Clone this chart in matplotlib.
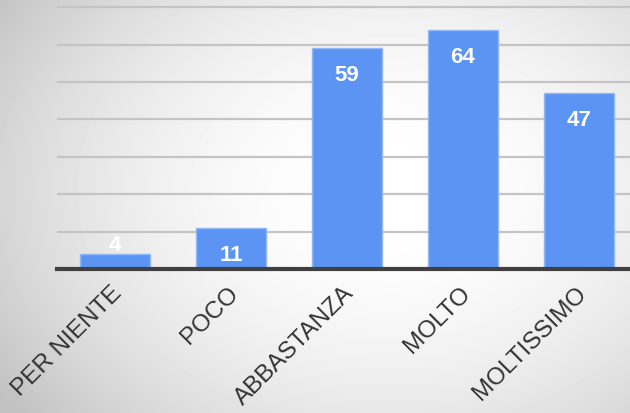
import numpy as np
import matplotlib.pyplot as plt
import matplotlib.transforms as mtransforms

plt.rcParams['font.family'] = ['Liberation Sans', 'DejaVu Sans']

categorie = ['PER NIENTE', 'POCO', 'ABBASTANZA', 'MOLTO', 'MOLTISSIMO']
valori = [4, 11, 59, 64, 47]

fig = plt.figure(figsize=(6.3, 4.14), dpi=100)

# sfondo sfumato (radiale)
bg = fig.add_axes([0, 0, 1, 1], zorder=-10)
yy, xx = np.mgrid[0:414, 0:630]
r = np.sqrt(((xx - 390) / 430) ** 2 + ((yy - 190) / 330) ** 2)
shade = np.clip(1.0 - 0.2 * r ** 2.0, 0.76, 1.0)
bg.imshow(shade, cmap='gray', vmin=0, vmax=1, aspect='auto', interpolation='bilinear')
bg.axis('off')

ax = fig.add_axes([57 / 630, 144 / 414, 573 / 630, 270 / 414])
ax.patch.set_alpha(0)
x = np.arange(len(categorie))
bars = ax.bar(x, valori, width=0.6, color='#5b94f3', edgecolor='#93b8f6', linewidth=1, zorder=3)

ax.set_xlim(-0.5, 4.44)
ax.set_ylim(0, 72.2)
ax.set_yticks(np.arange(10, 80, 10))
ax.yaxis.grid(True, color='#c4c4c4', linewidth=1.6, zorder=0)
ax.tick_params(axis='y', length=0, labelleft=False)
ax.tick_params(axis='x', length=0, pad=9)
for s in ['top', 'right', 'left']:
    ax.spines[s].set_visible(False)
ax.spines['bottom'].set_color('#404040')
ax.spines['bottom'].set_linewidth(3)
ax.spines['bottom'].set_zorder(5)

ax.set_xticks(x)
ax.set_xticklabels(categorie, rotation=45, ha='right', va='top', rotation_mode='anchor',
                   fontsize=17.5, color='#333333')
sposta = mtransforms.ScaledTranslation(-4 / 100, 0, fig.dpi_scale_trans)
for lab in ax.get_xticklabels():
    lab.set_transform(lab.get_transform() + sposta)

for xi, v in zip(x, valori):
    off = 7 if v < 8 else -19
    ax.annotate(str(v), (xi, v), xytext=(0, off), textcoords='offset points',
                ha='center', va='center', color='white', fontsize=16, fontweight='bold', zorder=4)

fig.savefig('out.png', dpi=100)
